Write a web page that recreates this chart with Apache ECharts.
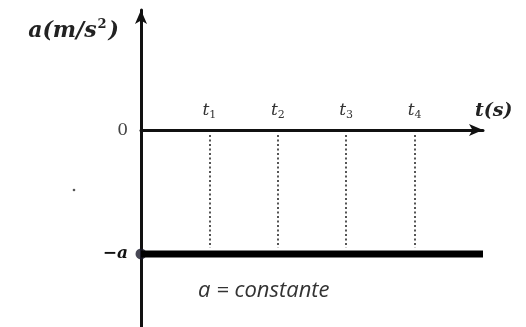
<!DOCTYPE html>
<html lang="pt">
<head>
<meta charset="UTF-8">
<title>a constante</title>
<script src="https://cdn.jsdelivr.net/npm/echarts@6/dist/echarts.min.js"></script>
<style>
  html, body { margin: 0; padding: 0; background: #fff; }
  #chart { width: 526px; height: 327px; }
</style>
</head>
<body>
<div id="chart"></div>
<script>
  // tempos marcados no eixo t
  var tTicks = [1, 2, 3, 4];
  var tLabels = ['1', '2', '3', '4'];
  // nivel da aceleracao (a constante, negativa)
  var aLevel = -1;
  var tEnd = 5;
  var yTicks = [0, -1];
  var yLabels = ['0', '−a'];

  var chart = echarts.init(document.getElementById('chart'));

  var serif = 'DejaVu Serif';

  var option = {
    animation: false,
    grid: { left: 141, right: 43, top: 10, bottom: 0, outerBoundsMode: 'none' },
    xAxis: {
      type: 'value',
      min: 0,
      max: tEnd,
      name: 't(s)',
      nameLocation: 'end',
      nameGap: -8,
      nameTextStyle: {
        fontFamily: serif, fontStyle: 'italic', fontWeight: 'bold',
        fontSize: 19, color: '#222', verticalAlign: 'bottom', padding: [0, 0, 10, 0]
      },
      axisLine: {
        onZero: true,
        symbol: ['none', 'arrow'],
        symbolSize: [9, 14],
        lineStyle: { color: '#111', width: 3 }
      },
      axisTick: { show: false },
      splitLine: { show: false },
      axisLabel: { show: false }
    },
    yAxis: {
      type: 'value',
      min: -1.59,
      max: 0.97,
      name: '{n|a(m/s}{p|2}{n|)}',
      nameLocation: 'end',
      nameGap: -21,
      nameTextStyle: {
        align: 'right', verticalAlign: 'middle',
        padding: [0, 22, 0, 0],
        rich: {
          n: { fontFamily: serif, fontStyle: 'italic', fontWeight: 'bold', fontSize: 22, color: '#222', letterSpacing: 2 },
          p: { fontFamily: serif, fontWeight: 'bold', fontSize: 13, color: '#222', padding: [0, 2, 12, 1] }
        }
      },
      axisLine: {
        symbol: ['none', 'arrow'],
        symbolSize: [9, 14],
        lineStyle: { color: '#111', width: 3 }
      },
      axisTick: { show: false },
      splitLine: { show: false },
      axisLabel: {
        margin: 13,
        customValues: yTicks,
        formatter: function (v) {
          var i = yTicks.indexOf(v);
          return v === 0 ? '{z|' + yLabels[i] + '}' : '{a|' + yLabels[i] + '}';
        },
        rich: {
          z: { fontFamily: serif, fontSize: 17, color: '#444' },
          a: { fontFamily: serif, fontStyle: 'italic', fontWeight: 'bold', fontSize: 17, color: '#111' }
        }
      }
    },
    series: [
      {
        // linha a = constante
        type: 'line',
        data: [[0, aLevel], [tEnd, aLevel]],
        showSymbol: false,
        lineStyle: { color: '#000', width: 7 },
        markLine: {
          silent: true,
          symbol: ['none', 'none'],
          lineStyle: { color: '#555', width: 2, type: [2, 2.5] },
          label: {
            show: true,
            position: 'start',
            distance: 14,
            formatter: function (p) {
              return '{t|t}{s|' + tLabels[p.dataIndex] + '}';
            },
            rich: {
              t: { fontFamily: serif, fontStyle: 'italic', fontSize: 17, color: '#333' },
              s: { fontFamily: serif, fontSize: 11, color: '#333', padding: [10, 0, 0, 0] }
            }
          },
          data: tTicks.map(function (t) {
            return [{ coord: [t, -0.04] }, { coord: [t, aLevel + 0.05] }];
          })
        }
      },
      {
        type: 'scatter',
        data: [[0, aLevel]],
        symbolSize: 11,
        itemStyle: { color: '#1a1a2a' }
      }
    ],
    graphic: [
      {
        type: 'text',
        left: 198,
        top: 280,
        style: {
          text: 'a = constante',
          font: 'italic 22px "Open Sans"',
          fill: '#333'
        }
      },
      {
        type: 'circle',
        shape: { cx: 74, cy: 190, r: 1.3 },
        style: { fill: '#555' }
      }
    ]
  };

  chart.setOption(option);
</script>
</body>
</html>
